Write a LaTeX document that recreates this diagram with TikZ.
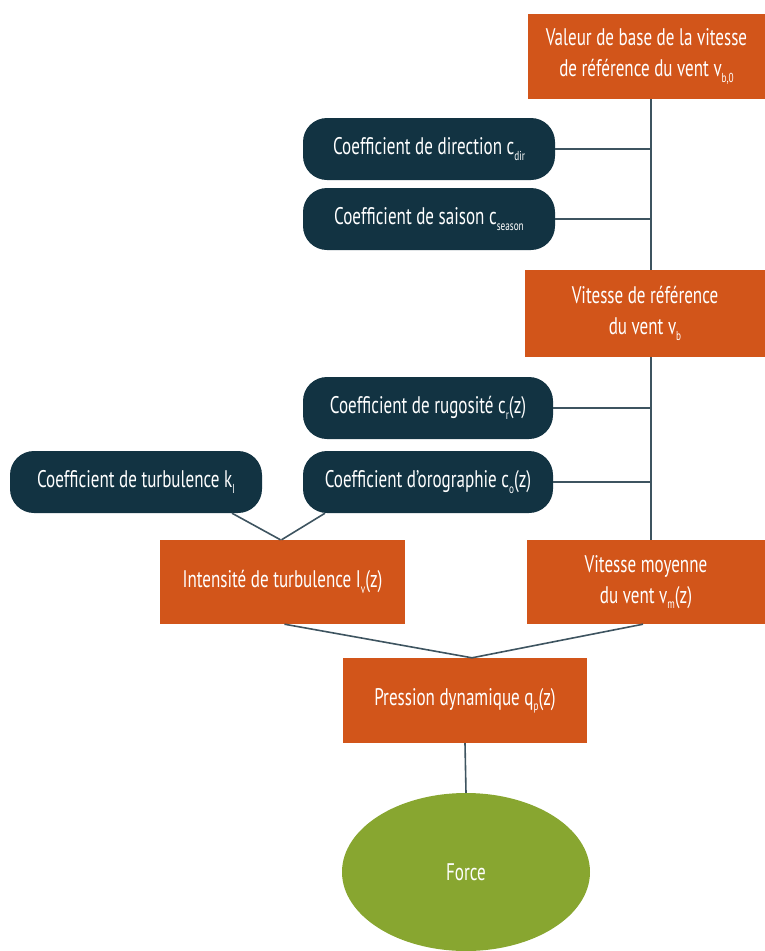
\documentclass[tikz,border=0pt]{standalone}
\usepackage{fontspec}
\setmainfont[FakeStretch=0.71]{PT Sans}
\usepackage{tikz}
\usetikzlibrary{shapes.geometric}
\definecolor{rust-orange}{RGB}{210,85,26}
\definecolor{deep-navy}{RGB}{18,51,66}
\definecolor{olive-green}{RGB}{136,166,48}
\definecolor{link-grey}{RGB}{62,84,96}
\tikzset{
	link/.style={draw=link-grey, line width=1.6pt}
}
\tikzstyle{orangebox}=[fill=rust-orange, text=white, minimum height=85pt, align=center, font=\fontsize{24pt}{31pt}\selectfont]
\tikzstyle{coefbox}=[fill=deep-navy, text=white, rounded corners=24pt, minimum width=252pt, minimum height=62pt, font=\fontsize{24pt}{31pt}\selectfont]
\newcommand{\idx}[1]{\raisebox{-0.45ex}{\fontsize{13pt}{14pt}\selectfont #1}}

\begin{document}
\begin{tikzpicture}[x=1pt,y=-1pt]
	\useasboundingbox (0,0) rectangle (765,951);
	\node[orangebox, minimum width=237pt] (vb0) at (646.5,56.5) {Valeur de base de la vitesse\\de référence du vent v\idx{b,0}};
	\node[coefbox] (cdir) at (429,149) {Coefficient de direction c\idx{dir}};
	\node[coefbox] (cseason) at (429,219) {Coefficient de saison c\idx{season}};
	\node[orangebox, minimum width=240pt, minimum height=87pt] (vb) at (645,313.5) {Vitesse de référence\\du vent v\idx{b}};
	\node[coefbox, minimum width=250pt] (crz) at (428,408) {Coefficient de rugosité c\idx{r}(z)};
	\node[coefbox, minimum width=250pt] (coz) at (428,482) {Coefficient d’orographie c\idx{o}(z)};
	\node[coefbox] (kI) at (136,482) {Coefficient de turbulence k\idx{I}};
	\node[orangebox, minimum width=245pt, minimum height=84pt] (Ivz) at (282.5,582) {Intensité de turbulence I\idx{v}(z)};
	\node[orangebox, minimum width=238pt, minimum height=84pt] (vmz) at (646,582) {Vitesse moyenne\\du vent v\idx{m}(z)};
	\node[orangebox, minimum width=244pt] (qpz) at (465,700.5) {Pression dynamique q\idx{p}(z)};
	\node[ellipse, fill=olive-green, text=white, minimum width=248pt, minimum height=158pt, font=\fontsize{24pt}{31pt}\selectfont] (force) at (466,872) {Force};
	% spine on the right
	\coordinate (spine) at (651,0);
	\draw[link] (vb0.south -| spine) -- (vb.north -| spine);
	\draw[link] (vb.south -| spine) -- (vmz.north -| spine);
	\draw[link] (cdir.east) -- (cdir.east -| spine);
	\draw[link] (cseason.east) -- (cseason.east -| spine);
	\draw[link] (crz.east) -- (crz.east -| spine);
	\draw[link] (coz.east) -- (coz.east -| spine);
	% turbulence
	\draw[link] ([xshift=96pt]kI.south) -- ([xshift=-2pt]Ivz.north);
	\draw[link] ([xshift=-103pt]coz.south) -- ([xshift=-1pt]Ivz.north);
	% pressure and force
	\draw[link] ([xshift=2pt]Ivz.south) -- ([xshift=7pt]qpz.north);
	\draw[link] ([xshift=-3pt]vmz.south) -- ([xshift=7pt]qpz.north);
	\draw[link] (qpz.south) -- (force.north);
\end{tikzpicture}
\end{document}
